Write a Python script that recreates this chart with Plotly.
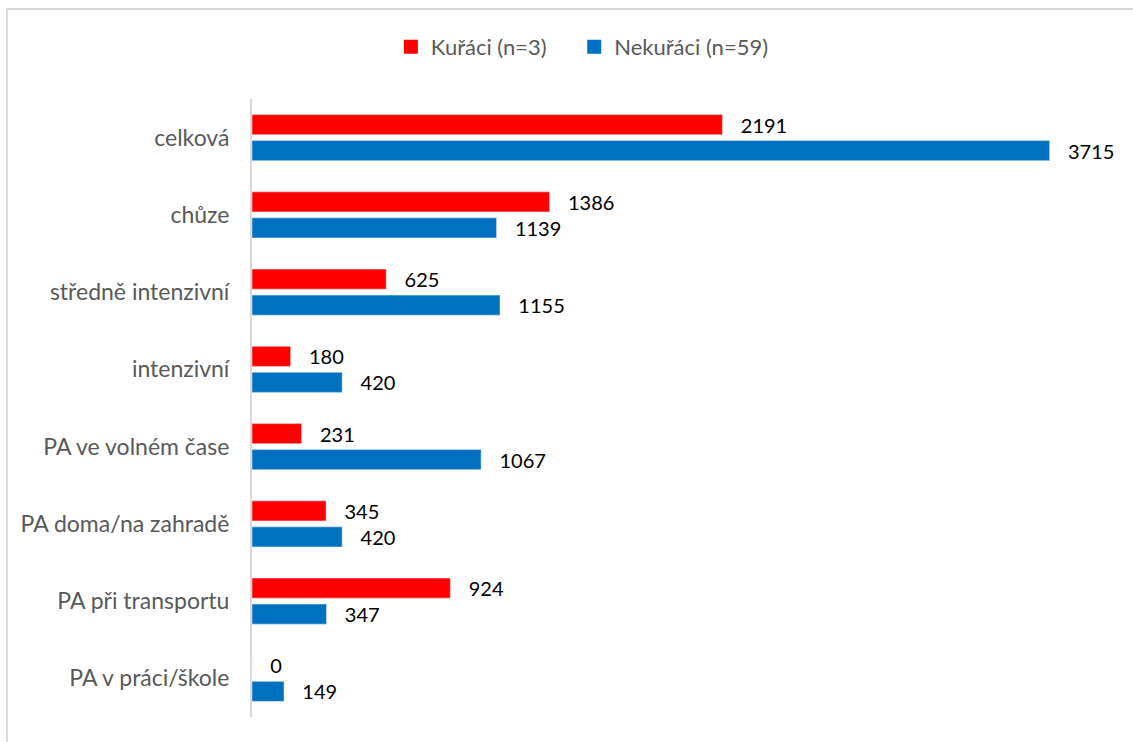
import plotly.graph_objects as go

categories = ["celková", "chůze", "středně intenzivní", "intenzivní",
              "PA ve volném čase", "PA doma/na zahradě", "PA při transportu",
              "PA v práci/škole"]
kuraci = [2191, 1386, 625, 180, 231, 345, 924, 0]
nekuraci = [3715, 1139, 1155, 420, 1067, 420, 347, 149]
series_names = ["Kuřáci (n=3)", "Nekuřáci (n=59)"]
colors = ["#FF0000", "#0070C0"]

FONT = "Lato"
PAD = "\u00a0\u00a0\u00a0"
LEG_SPACER = ["\u00a0\u00a0\u00a0\u00a0", ""]

fig = go.Figure()
for name, vals, col in zip(series_names, [kuraci, nekuraci], colors):
    fig.add_trace(go.Bar(
        y=categories, x=vals, name=name, orientation="h",
        marker=dict(color=col), showlegend=False, legendgroup=name,
        text=[PAD + str(v) for v in vals], textposition="outside",
        constraintext="none",
        textfont=dict(family=FONT, size=20, color="#000000"),
        cliponaxis=False,
    ))
for name, col, sp in zip(series_names, colors, LEG_SPACER):
    fig.add_trace(go.Scatter(
        x=[None], y=[None], mode="markers", name=name + sp, legendgroup=name,
        marker=dict(symbol="square", size=14, color=col),
    ))

fig.update_layout(
    width=1133, height=742,
    paper_bgcolor="white", plot_bgcolor="white",
    margin=dict(l=252, r=43, t=99, b=25),
    barmode="group", bargap=0.327, bargroupgap=0.23,
    font=dict(family=FONT, size=20, color="#595959"),
    showlegend=True,
    legend=dict(orientation="h", xref="container", yref="container",
                x=0.514, xanchor="center", y=1 - 47 / 742, yanchor="middle",
                font=dict(family=FONT, size=22, color="#595959"),
                itemwidth=30, traceorder="normal"),
    xaxis=dict(range=[0, 3903], visible=False, showgrid=False, zeroline=False),
    yaxis=dict(autorange="reversed", showgrid=False, zeroline=False,
               showline=True, linecolor="#D9D9D9", linewidth=2,
               ticks="", ticklabelstandoff=16,
               tickfont=dict(family=FONT, size=23, color="#595959")),
    shapes=[dict(type="rect", xref="paper", yref="paper",
                 x0=-0.2924, x1=1.3, y0=-0.3, y1=1.1456,
                 line=dict(color="#D9D9D9", width=2), layer="below")],
)

fig.write_html("out.html", config={"displayModeBar": False},
               post_script="document.body.style.margin='0';")
